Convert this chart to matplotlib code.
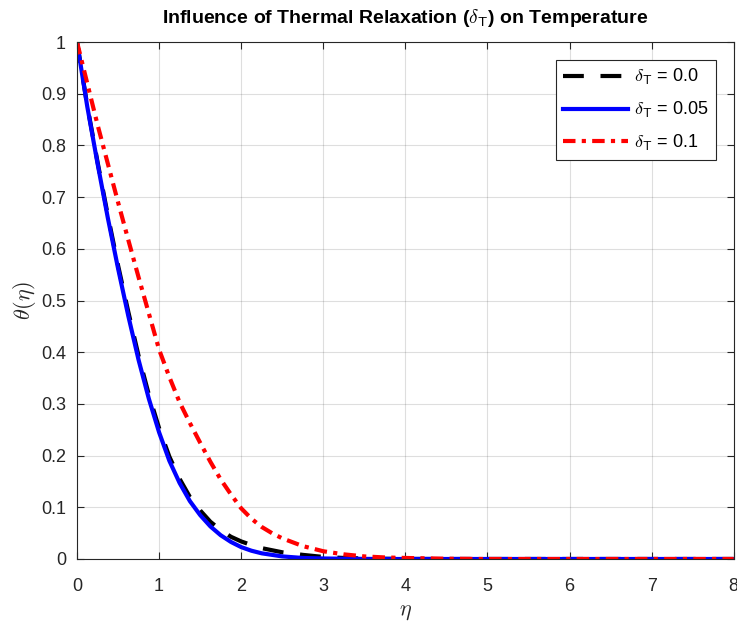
import numpy as np
import matplotlib.pyplot as plt

plt.rcParams['font.family'] = ['Liberation Sans', 'DejaVu Sans']
plt.rcParams['mathtext.fontset'] = 'cm'

# eta grid and temperature profiles
eta = [0, 0.125, 0.25, 0.375, 0.5, 0.625, 0.75, 0.875, 1.0, 1.125, 1.25, 1.375,
       1.5, 1.625, 1.75, 1.875, 2.0, 2.125, 2.25, 2.375, 2.5, 2.75, 3.0, 3.25,
       3.5, 3.75, 4.0, 4.5, 5.0, 6.0, 7.0, 8.0]
theta_00 = [1.0, 0.877, 0.768, 0.665, 0.568, 0.478, 0.393, 0.318, 0.253, 0.198,
            0.155, 0.12, 0.094, 0.072, 0.056, 0.043, 0.034, 0.027, 0.021, 0.017,
            0.013, 0.008, 0.004, 0.002, 0.001, 0.0005, 0.0002, 0, 0, 0, 0, 0]
theta_005 = [1.0, 0.875, 0.765, 0.66, 0.562, 0.47, 0.385, 0.31, 0.245, 0.19,
             0.147, 0.112, 0.085, 0.063, 0.046, 0.033, 0.023, 0.016, 0.011, 0.008,
             0.005, 0.002, 0.001, 0.0005, 0.0002, 0, 0, 0, 0, 0, 0, 0]
theta_01 = [1.0, 0.92, 0.84, 0.765, 0.69, 0.617, 0.545, 0.475, 0.405, 0.352,
            0.303, 0.263, 0.225, 0.188, 0.154, 0.125, 0.098, 0.078, 0.062, 0.05,
            0.04, 0.025, 0.015, 0.009, 0.005, 0.003, 0.002, 0.0005, 0, 0, 0, 0]

labels = [r'$\delta_{\mathsf{T}}$ = 0.0', r'$\delta_{\mathsf{T}}$ = 0.05', r'$\delta_{\mathsf{T}}$ = 0.1']

fig = plt.figure(figsize=(7.37, 6.3), dpi=100)
ax = fig.add_axes([0.1045, 0.1127, 0.891, 0.8206])

ax.plot(eta, theta_00, color='black', linestyle=(0, (5, 4)), linewidth=3, label=labels[0])
ax.plot(eta, theta_005, color='blue', linestyle='-', linewidth=3, label=labels[1])
ax.plot(eta, theta_01, color='red', linestyle=(0, (3, 1.5, 1, 1.5)), linewidth=3, label=labels[2])

ax.set_xlim(0, 8)
ax.set_ylim(0, 1)
ax.set_xticks(np.arange(0, 9, 1))
ax.set_yticks(np.arange(0, 1.01, 0.1))
ax.set_yticklabels(['0', '0.1', '0.2', '0.3', '0.4', '0.5', '0.6', '0.7', '0.8', '0.9', '1'])
ax.tick_params(direction='in', top=True, right=True, labelsize=13, colors='#262626', length=5)
ax.tick_params(axis='x', pad=14)
ax.tick_params(axis='y', pad=8)
ax.grid(True, color='#262626', alpha=0.15, linewidth=0.8)
for s in ax.spines.values():
    s.set_color('#262626')
    s.set_linewidth(0.8)

ax.set_xlabel(r'$\eta$', fontsize=16, color='#262626', labelpad=4)
ax.set_ylabel(r'$\theta(\eta)$', fontsize=16, color='#262626', labelpad=2)
ax.set_title(r'Influence of Thermal Relaxation ($\delta_{\mathsf{T}}$) on Temperature',
             fontsize=14, fontweight='bold', pad=14)

leg = ax.legend(loc='upper right', fontsize=13, fancybox=False, edgecolor='#262626',
                framealpha=1, handlelength=3.6, borderaxespad=1.0, labelspacing=0.7,
                handletextpad=0.3)
leg.get_frame().set_linewidth(0.8)

fig.savefig('out.png', dpi=100)
